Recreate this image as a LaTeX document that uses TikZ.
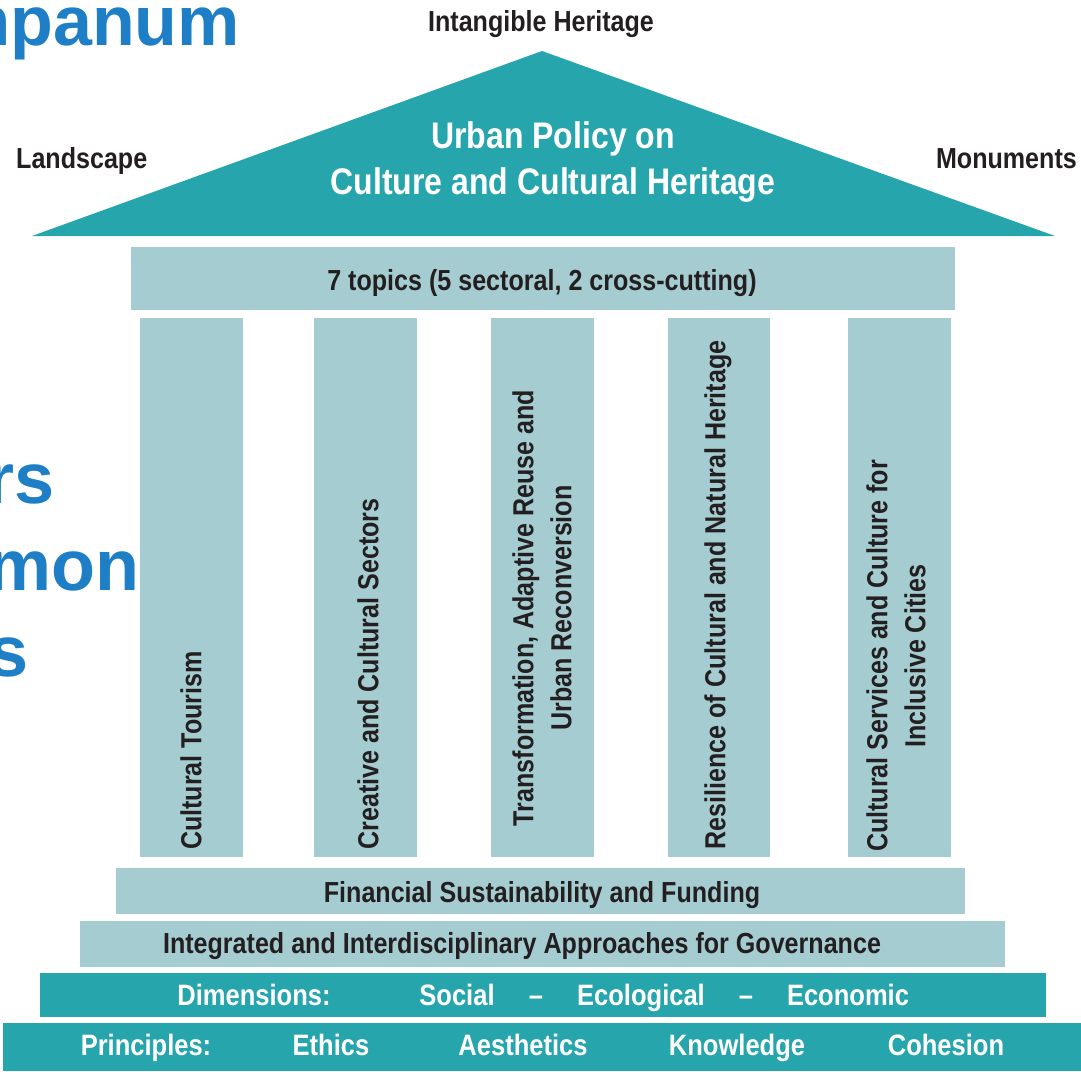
\documentclass[tikz,border=0pt]{standalone}
\usepackage{fontspec}
\setmainfont[FakeStretch=0.865]{Liberation Sans Bold}
\newfontfamily\titlefont{Liberation Sans Bold}
\definecolor{teal1}{HTML}{26A5AC}
\definecolor{pale1}{HTML}{A5CDD1}
\definecolor{blue1}{HTML}{1E7EC6}
\definecolor{ink1}{HTML}{231F20}
\tikzset{
  bar/.style={fill=pale1,draw=none,inner sep=0pt},
  darkbar/.style={fill=teal1,draw=none,inner sep=0pt},
  lab/.style={font=\fontsize{29}{33}\selectfont,text=ink1,inner sep=0pt,text height=21pt,text depth=6pt},
  wlab/.style={font=\fontsize{29.5}{33}\selectfont,text=white,inner sep=0pt,text height=21pt,text depth=6pt},
  collab/.style={font=\fontsize{29}{38}\selectfont,text=ink1,inner sep=0pt,align=center,rotate=90},
  big/.style={font=\titlefont\fontsize{72}{72}\selectfont,text=blue1,inner sep=0pt,anchor=base east},
}
\begin{document}
\begin{tikzpicture}[x=1pt,y=-1pt]
\useasboundingbox (0,0) rectangle (1081,1071);
\clip (0,0) rectangle (1081,1071);
% clipped slide title fragments
\node[big,font=\titlefont\fontsize{70}{70}\selectfont] (t1) at (240,45) {mpanum};
\node[big] (t2) at (55,503) {rs};
\node[big] (t3) at (140,590) {mon};
\node[big] (t4) at (29,676) {s};
% roof
\fill[teal1] (32,236) -- (542,51) -- (1055,236) -- cycle;
\node[font=\fontsize{37}{46}\selectfont,text=white,inner sep=0pt,align=center] (roof) at (553,162) {Urban Policy on\\Culture and Cultural Heritage};
\node[lab] (ih) at (541,24) {Intangible Heritage};
\node[lab,anchor=west] (ls) at (16,161) {Landscape};
\node[lab,anchor=east] (mo) at (1077,161) {Monuments};
% entablature
\node[bar,minimum width=824pt,minimum height=63pt] (top) at (543,278.5) {};
\node[lab] (topl) at (542,283) {7 topics (5 sectoral, 2 cross-cutting)};
% columns
\node[bar,minimum width=103pt,minimum height=539pt] (c1) at (191.5,587.5) {};
\node[bar,minimum width=103pt,minimum height=539pt] (c2) at (365.5,587.5) {};
\node[bar,minimum width=103pt,minimum height=539pt] (c3) at (542.5,587.5) {};
\node[bar,minimum width=102pt,minimum height=539pt] (c4) at (719,587.5) {};
\node[bar,minimum width=103pt,minimum height=539pt] (c5) at (899.5,587.5) {};
\node[collab] (l1) at (191,750.5) {Cultural Tourism};
\node[collab] (l2) at (368,674) {Creative and Cultural Sectors};
\node[collab] (l3) at (542,608) {Transformation, Adaptive Reuse and\\Urban Reconversion};
\node[collab] (l4) at (718,595) {Resilience of Cultural and Natural Heritage};
\node[collab] (l5) at (896,656) {Cultural Services and Culture for\\Inclusive Cities};
% steps
\node[bar,minimum width=849pt,minimum height=46pt] (s1) at (540.5,891) {};
\node[lab] (s1l) at (542,895) {Financial Sustainability and Funding};
\node[bar,minimum width=925pt,minimum height=46pt] (s2) at (542.5,944) {};
\node[lab] (s2l) at (522,946) {Integrated and Interdisciplinary Approaches for Governance};
\node[darkbar,minimum width=1006pt,minimum height=44pt] (s3) at (543,995) {};
\node[wlab] (d0) at (254,998) {Dimensions:};
\node[wlab] (d1) at (457,998) {Social};
\node[wlab] (d2) at (536,998) {–};
\node[wlab] (d3) at (641,998) {Ecological};
\node[wlab] (d4) at (746,998) {–};
\node[wlab] (d5) at (848,998) {Economic};
\node[darkbar,minimum width=1078pt,minimum height=48pt] (s4) at (542,1047) {};
\node[wlab] (p0) at (146,1048) {Principles:};
\node[wlab] (p1) at (331,1048) {Ethics};
\node[wlab] (p2) at (523,1048) {Aesthetics};
\node[wlab] (p3) at (737,1048) {Knowledge};
\node[wlab] (p4) at (946,1048) {Cohesion};
\end{tikzpicture}
\end{document}
